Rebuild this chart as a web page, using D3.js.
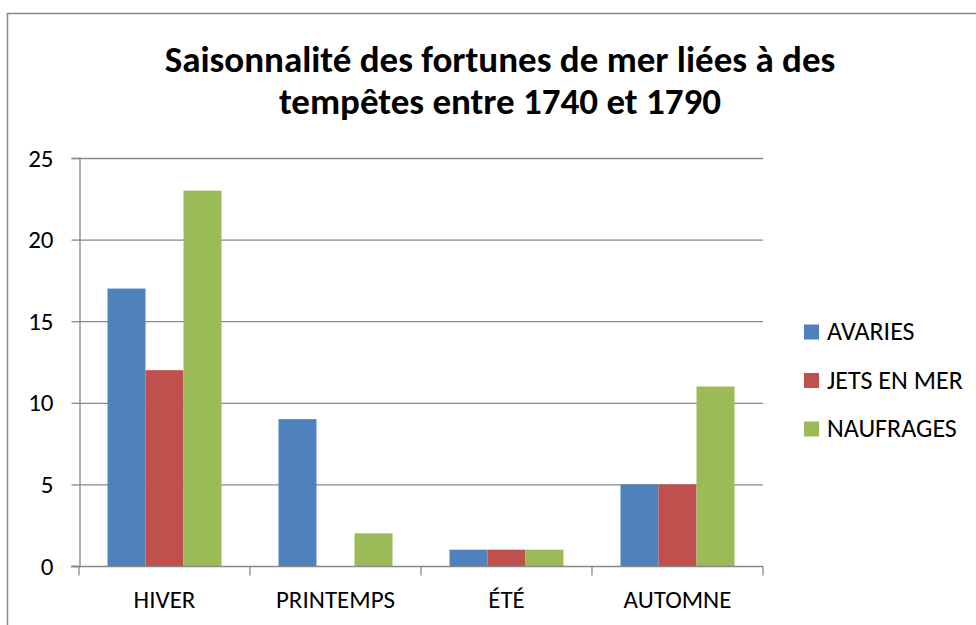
<!DOCTYPE html>
<html>
<head>
<meta charset="utf-8">
<script src="https://cdn.jsdelivr.net/npm/d3@7"></script>
<style>
  body { margin: 0; background: #fff; }
  svg { display: block; font-family: Carlito, Calibri, Lato, "Open Sans", sans-serif; }
</style>
</head>
<body>
<svg id="chart" width="976" height="625"></svg>
<script>
// data
var seasons = ['HIVER', 'PRINTEMPS', 'ÉTÉ', 'AUTOMNE'];
var seriesNames = ['AVARIES', 'JETS EN MER', 'NAUFRAGES'];
var avaries = [17, 9, 1, 5];
var jetsEnMer = [12, 0, 1, 5];
var naufrages = [23, 2, 1, 11];
var yTicks = [0, 5, 10, 15, 20, 25];
var colors = ['#4F81BD', '#C0504D', '#9BBB59'];

var seriesValues = [avaries, jetsEnMer, naufrages];

var svg = d3.select('#chart');
var plotLeft = 79, plotRight = 763, plotTop = 158, plotBottom = 566;

// chart frame
svg.append('rect')
    .attr('x', 7.5).attr('y', 13.5)
    .attr('width', 1000).attr('height', 700)
    .attr('fill', 'none')
    .attr('stroke', '#888')
    .attr('stroke-width', 1.5);

// title
var title = svg.append('text')
    .attr('text-anchor', 'middle')
    .attr('font-weight', 'bold')
    .attr('font-size', 37)
    .attr('fill', '#000');
title.append('tspan').attr('x', 500).attr('y', 72)
    .text('Saisonnalité des fortunes de mer liées à des');
title.append('tspan').attr('x', 500).attr('y', 114)
    .text('tempêtes entre 1740 et 1790');

var x = d3.scaleBand().domain(seasons).range([plotLeft, plotRight]);
var xInner = d3.scaleBand().domain(seriesNames)
    .range([0, x.bandwidth()]).paddingOuter(0.75).paddingInner(0);
var y = d3.scaleLinear().domain([0, 25]).range([plotBottom, plotTop]);

// gridlines
svg.append('g').selectAll('line')
    .data(yTicks.filter(function(d) { return d > 0; }))
    .enter().append('line')
    .attr('x1', plotLeft).attr('x2', plotRight)
    .attr('y1', function(d) { return y(d) + 0.5; })
    .attr('y2', function(d) { return y(d) + 0.5; })
    .attr('stroke', '#888').attr('stroke-width', 1.3);

// bars
var groups = svg.append('g').selectAll('g')
    .data(seriesNames)
    .enter().append('g')
    .attr('fill', function(d, i) { return colors[i]; });

groups.selectAll('rect')
    .data(function(name, i) {
        return seasons.map(function(s, j) {
            return { season: s, name: name, value: seriesValues[i][j] };
        });
    })
    .enter().append('rect')
    .attr('x', function(d) { return x(d.season) + xInner(d.name); })
    .attr('width', xInner.bandwidth())
    .attr('y', function(d) { return y(d.value); })
    .attr('height', function(d) { return plotBottom - y(d.value); });

// y axis
var yAxis = svg.append('g')
    .attr('transform', 'translate(' + (plotLeft + 0.5) + ',0)')
    .call(d3.axisLeft(y).tickValues(yTicks).tickSize(8).tickPadding(18));
yAxis.attr('font-family', null).attr('font-size', 25);
yAxis.select('.domain').attr('stroke', '#888').attr('stroke-width', 1.3);
yAxis.selectAll('.tick line').attr('stroke', '#888').attr('stroke-width', 1.3);
yAxis.selectAll('.tick text').attr('fill', '#000');

// x axis
var xAxis = svg.append('g')
    .attr('transform', 'translate(0,' + (plotBottom + 0.5) + ')')
    .call(d3.axisBottom(x).tickSize(0).tickPadding(24).tickSizeOuter(0));
xAxis.attr('font-family', null).attr('font-size', 25);
xAxis.select('.domain').remove();
xAxis.append('line')
    .attr('x1', plotLeft - 8).attr('x2', plotRight)
    .attr('stroke', '#888').attr('stroke-width', 1.3);
xAxis.selectAll('.tick text').attr('fill', '#000');
xAxis.selectAll('.sep')
    .data(d3.range(seasons.length + 1))
    .enter().append('line')
    .attr('class', 'sep')
    .attr('x1', function(i) { return plotLeft + i * x.step(); })
    .attr('x2', function(i) { return plotLeft + i * x.step(); })
    .attr('y1', 0).attr('y2', 9)
    .attr('stroke', '#888').attr('stroke-width', 1.3);

// legend
var legend = svg.append('g').selectAll('g')
    .data(seriesNames)
    .enter().append('g')
    .attr('transform', function(d, i) {
        return 'translate(804,' + (332 + i * 48.5) + ')';
    });
legend.append('rect')
    .attr('x', 0).attr('y', -7.5)
    .attr('width', 15).attr('height', 15)
    .attr('fill', function(d, i) { return colors[i]; });
legend.append('text')
    .attr('x', 23).attr('y', 8)
    .attr('font-size', 26)
    .attr('fill', '#000')
    .text(function(d) { return d; });
</script>
</body>
</html>
